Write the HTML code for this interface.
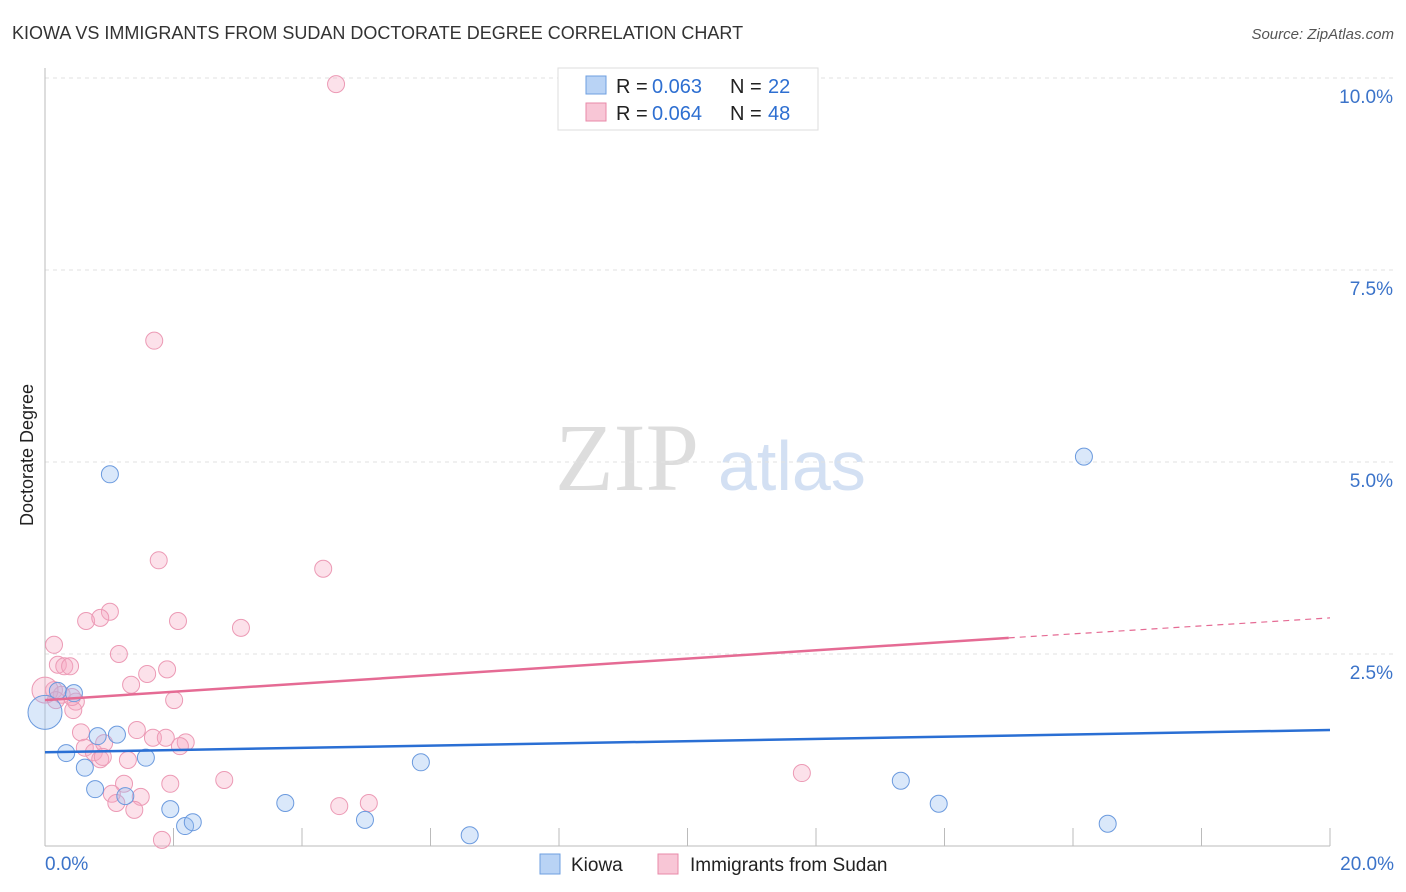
<!DOCTYPE html>
<html><head><meta charset="utf-8"><style>
body{margin:0;background:#fff;font-family:"Liberation Sans",sans-serif}
svg{display:block}
</style></head><body>
<svg id="c" width="1406" height="892">
<text x="12" y="39" font-size="18" fill="#333">KIOWA VS IMMIGRANTS FROM SUDAN DOCTORATE DEGREE CORRELATION CHART</text>
<text x="1394" y="39" font-size="15" fill="#555" font-style="italic" text-anchor="end">Source: ZipAtlas.com</text>
<text x="555" y="490" font-size="96" fill="#ddd" font-family="Liberation Serif,serif">ZIP</text>
<text x="718" y="490" font-size="70" fill="#d3e0f3">atlas</text>
<text transform="translate(33,455) rotate(-90)" font-size="18" fill="#222" text-anchor="middle">Doctorate Degree</text>
<g id="grid"></g><g id="marks"></g>
<g>
<rect x="558" y="68" width="260" height="62" fill="#fff" stroke="#ddd"/>
<rect x="586" y="76" width="20" height="18" fill="#b9d3f5" stroke="#6e9fe0"/>
<rect x="586" y="103" width="20" height="18" fill="#f8c6d6" stroke="#e88aa8"/>
<g font-size="20" fill="#222">
<text x="616" y="93">R =</text>
<text x="652" y="93" fill="#2e6fd1">0.063</text>
<text x="730" y="93">N =</text>
<text x="768" y="93" fill="#2e6fd1">22</text>
<text x="616" y="120">R =</text>
<text x="652" y="120" fill="#2e6fd1">0.064</text>
<text x="730" y="120">N =</text>
<text x="768" y="120" fill="#2e6fd1">48</text>
</g>
</g>
<g>
<rect x="540" y="854" width="20" height="20" fill="#b9d3f5" stroke="#6e9fe0"/>
<text x="571" y="871" font-size="19" fill="#222">Kiowa</text>
<rect x="658" y="854" width="20" height="20" fill="#f8c6d6" stroke="#e88aa8"/>
<text x="690" y="871" font-size="19" fill="#222">Immigrants from Sudan</text>
</g>
</svg>
<script>
const xTicks=[0,20];
const yTicks=[2.5,5,7.5,10];
const kiowaX=[1.01,16.17,0.20,0.45,0.33,0.62,0.82,1.12,1.57,0.78,1.25,1.95,2.18,2.30,3.74,4.98,5.85,6.61,13.32,13.91,16.54,0];
const kiowaY=[4.84,5.07,2.02,1.99,1.21,1.02,1.43,1.45,1.15,0.74,0.65,0.48,0.26,0.31,0.56,0.34,1.09,0.14,0.85,0.55,0.29,1.74];
const sudanX=[4.53,1.70,1.77,4.33,1.01,0.64,0.86,2.07,3.05,0.14,1.15,0.20,0.30,0.39,1.90,1.59,1.34,0.14,0.26,0.48,2.01,0.44,0.56,1.43,1.68,1.88,2.19,2.10,0.62,0.76,0.86,0.92,1.29,2.79,1.95,1.23,1.04,1.49,1.11,1.39,4.58,5.04,11.78,1.82,0,0.17,0.42,0.90];
const sudanY=[9.92,6.58,3.72,3.61,3.05,2.93,2.97,2.93,2.84,2.62,2.50,2.36,2.34,2.34,2.30,2.24,2.10,2.03,1.97,1.88,1.90,1.77,1.48,1.51,1.41,1.41,1.35,1.30,1.28,1.22,1.13,1.34,1.12,0.86,0.81,0.81,0.68,0.64,0.56,0.47,0.52,0.56,0.95,0.08,2.03,1.90,1.94,1.16];
const kiowaTrend=[1.22,1.51];
const sudanTrend=[1.90,2.71,2.97];
const sx=v=>45+v/20*1285, sy=v=>846-v*76.8;
const NS='http://www.w3.org/2000/svg';
function mk(t,a,p){const e=document.createElementNS(NS,t);for(const k in a)e.setAttribute(k,a[k]);p.appendChild(e);return e;}
const g=document.getElementById('grid'),m=document.getElementById('marks');
yTicks.forEach(v=>{
 const l=mk('line',{x1:45,x2:1394,y1:sy(v),y2:sy(v),stroke:'#e2e2e2','stroke-dasharray':'4,4'},g);
 
 
 const t=mk('text',{x:1393,y:sy(v)+25,'font-size':19,fill:'#3b73c9','text-anchor':'end'},g);t.textContent=v.toFixed(1)+'%';
 
 
});
mk('line',{x1:45,x2:45,y1:68,y2:846,stroke:'#bbb'},g);
mk('line',{x1:45,x2:1330,y1:846,y2:846,stroke:'#bbb'},g);
for(let i=0;i<=10;i++){mk('line',{x1:sx(i*2),x2:sx(i*2),y1:828,y2:846,stroke:'#bbb'},g);}
xTicks.forEach((v,i)=>{const t=mk('text',{x:i?1394:45,y:870,'font-size':19,fill:'#3b73c9','text-anchor':i?'end':'start'},g);t.textContent=v.toFixed(1)+'%';
 
 });
function dot(x,y,i,last,fill,st,name){
 const r=(i===last)?(name==='kiowa-point'?17:13):8.5;
 const c=mk('circle',{cx:sx(x),cy:sy(y),r:r,fill:fill,stroke:st,'stroke-width':1},m);
 
 
}
sudanX.forEach((x,i)=>dot(x,sudanY[i],i,44,'rgba(246,170,195,0.35)','#ec9ab5','sudan-point'));
kiowaX.forEach((x,i)=>dot(x,kiowaY[i],i,21,'rgba(150,190,240,0.35)','#6b9ade','kiowa-point'));
let l=mk('line',{x1:sx(0),y1:sy(kiowaTrend[0]),x2:sx(20),y2:sy(kiowaTrend[1]),stroke:'#2a6fd4','stroke-width':2.5},m);


l=mk('line',{x1:sx(0),y1:sy(sudanTrend[0]),x2:sx(15),y2:sy(sudanTrend[1]),stroke:'#e56b94','stroke-width':2.5},m);


l=mk('line',{x1:sx(15),y1:sy(sudanTrend[1]),x2:sx(20),y2:sy(sudanTrend[2]),stroke:'#e56b94','stroke-width':1.2,'stroke-dasharray':'6,5'},m);


</script>
</body></html>
